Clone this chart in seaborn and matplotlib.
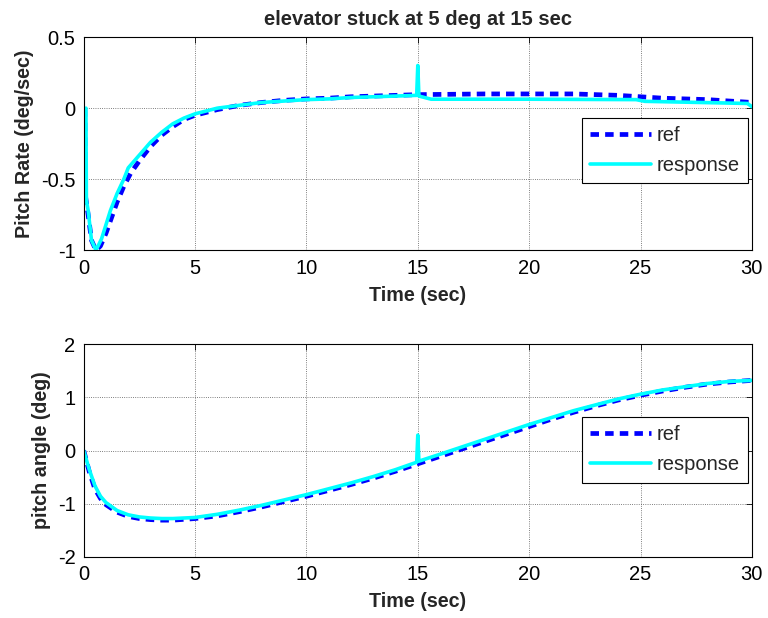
import matplotlib
matplotlib.use("Agg")
import matplotlib.pyplot as plt
import seaborn as sns
import pandas as pd

# Pitch rate (deg/sec)
rate_ref_t = [0.05, 0.08, 0.2, 0.35, 0.55, 0.75, 1.0, 1.25, 1.5, 1.8, 2.1, 2.5, 3.0, 3.5, 4.0,
              4.5, 5.0, 6.0, 7.0, 8.0, 9.0, 10.0, 11.0, 12.0, 13.0, 14.0, 15.0, 18.0, 22.0,
              24.0, 25.0, 26.0, 28.0, 30.0]
rate_ref_v = [0.0, -0.62, -0.75, -0.93, -1.0, -0.97, -0.88, -0.77, -0.66, -0.55, -0.46, -0.37,
              -0.27, -0.19, -0.13, -0.08, -0.05, -0.01, 0.02, 0.04, 0.055, 0.065, 0.07, 0.08,
              0.085, 0.09, 0.095, 0.1, 0.1, 0.09, 0.08, 0.07, 0.06, 0.04]

rate_resp_t = [0.1, 0.12, 0.2, 0.35, 0.55, 0.8, 1.0, 1.2, 1.5, 1.8, 2.0, 2.5, 3.0, 3.5, 4.0,
               4.5, 5.0, 6.0, 7.0, 8.0, 9.0, 10.0, 11.0, 12.0, 13.0, 14.0, 14.95, 15.0, 15.05,
               15.6, 20.0, 24.8, 25.2, 29.8, 30.0]
rate_resp_v = [0.0, -0.65, -0.72, -0.93, -1.0, -0.92, -0.82, -0.72, -0.6, -0.5, -0.42, -0.33,
               -0.24, -0.17, -0.11, -0.07, -0.04, 0.0, 0.02, 0.04, 0.05, 0.06, 0.065, 0.075,
               0.08, 0.085, 0.09, 0.3, 0.085, 0.063, 0.063, 0.06, 0.048, 0.033, 0.01]

# Pitch angle (deg)
ang_ref_t = [0.0, 0.25, 0.5, 0.75, 1.0, 1.5, 2.0, 2.5, 3.0, 3.5, 4.0, 5.0, 6.0, 7.0, 8.0, 9.0,
             10.0, 11.0, 12.0, 13.0, 14.0, 15.0, 16.0, 17.0, 18.0, 19.0, 20.0, 21.0, 22.0,
             23.0, 24.0, 25.0, 26.0, 27.0, 28.0, 29.0, 30.0]
ang_ref_v = [0.0, -0.4, -0.72, -0.9, -1.02, -1.16, -1.24, -1.28, -1.3, -1.31, -1.31, -1.28,
             -1.23, -1.15, -1.06, -0.96, -0.86, -0.75, -0.64, -0.52, -0.39, -0.25, -0.11,
             0.03, 0.17, 0.31, 0.45, 0.59, 0.72, 0.84, 0.95, 1.04, 1.12, 1.19, 1.25, 1.29, 1.32]

ang_resp_t = [0.0, 0.25, 0.5, 0.75, 1.0, 1.5, 2.0, 2.5, 3.0, 3.5, 4.0, 5.0, 6.0, 7.0, 8.0, 9.0,
              10.0, 11.0, 12.0, 13.0, 14.0, 14.95, 15.0, 15.05, 16.0, 17.0, 18.0, 19.0, 20.0,
              21.0, 22.0, 23.0, 24.0, 25.0, 26.0, 27.0, 28.0, 29.0, 30.0]
ang_resp_v = [0.0, -0.36, -0.66, -0.86, -0.98, -1.13, -1.21, -1.25, -1.27, -1.28, -1.28, -1.26,
              -1.2, -1.12, -1.03, -0.93, -0.83, -0.72, -0.61, -0.49, -0.36, -0.22, 0.29, -0.2,
              -0.07, 0.07, 0.21, 0.35, 0.49, 0.62, 0.75, 0.86, 0.97, 1.06, 1.14, 1.2, 1.26,
              1.3, 1.32]

sns.set_style("white")
plt.rcParams["font.family"] = ["Liberation Sans", "DejaVu Sans"]

fig = plt.figure(figsize=(7.68, 6.18), dpi=100)
ax1 = fig.add_axes([0.109, 0.595, 0.870, 0.345])
ax2 = fig.add_axes([0.109, 0.099, 0.870, 0.344])

REF_KW = dict(color="#0000ff", linewidth=3.4, dashes=(1.8, 1.3))
RESP_KW = dict(color="#00ffff", linewidth=2.6)
TICK_FS = 14.5
LABEL_FS = 14.2


def draw(ax, rt, rv, pt, pv):
    ref = pd.DataFrame({"t": rt, "v": rv})
    resp = pd.DataFrame({"t": pt, "v": pv})
    sns.lineplot(data=ref, x="t", y="v", ax=ax, estimator=None, sort=False,
                 label="ref", **REF_KW)
    sns.lineplot(data=resp, x="t", y="v", ax=ax, estimator=None, sort=False,
                 label="response", **RESP_KW)
    ax.set_xlim(0, 30)
    ax.set_xticks([0, 5, 10, 15, 20, 25, 30])
    ax.grid(True, color="#555555", linestyle=":", linewidth=0.6)
    ax.tick_params(direction="in", length=4, top=True, right=True, pad=6,
                   labelsize=TICK_FS, colors="black", width=0.6)
    for s in ax.spines.values():
        s.set_color("black")
        s.set_linewidth(0.8)
    ax.set_xlabel("Time (sec)", fontsize=LABEL_FS, fontweight="bold", labelpad=6)


draw(ax1, rate_ref_t, rate_ref_v, rate_resp_t, rate_resp_v)
ax1.set_ylim(-1, 0.5)
ax1.set_yticks([-1, -0.5, 0, 0.5])
ax1.set_yticklabels(["-1", "-0.5", "0", "0.5"])
ax1.set_ylabel("Pitch Rate (deg/sec)", fontsize=LABEL_FS, fontweight="bold", labelpad=5)
ax1.set_title("elevator stuck at 5 deg at 15 sec", fontsize=14.5, fontweight="bold", pad=9)

draw(ax2, ang_ref_t, ang_ref_v, ang_resp_t, ang_resp_v)
ax2.set_ylim(-2, 2)
ax2.set_yticks([-2, -1, 0, 1, 2])
ax2.set_yticklabels(["-2", "-1", "0", "1", "2"])
ax2.set_ylabel("pitch angle (deg)", fontsize=LABEL_FS, fontweight="bold", labelpad=5)

for ax, top in ((ax1, 0.622), (ax2, 0.659)):
    leg = ax.legend(loc="upper right", bbox_to_anchor=(0.994, top), fontsize=14.5,
                    frameon=True, fancybox=False, edgecolor="black", framealpha=1,
                    handlelength=3.0, borderaxespad=0, handletextpad=0.3,
                    borderpad=0.4, labelspacing=0.58)
    leg.get_frame().set_linewidth(0.8)

fig.savefig("out.png", dpi=100, facecolor="white")
